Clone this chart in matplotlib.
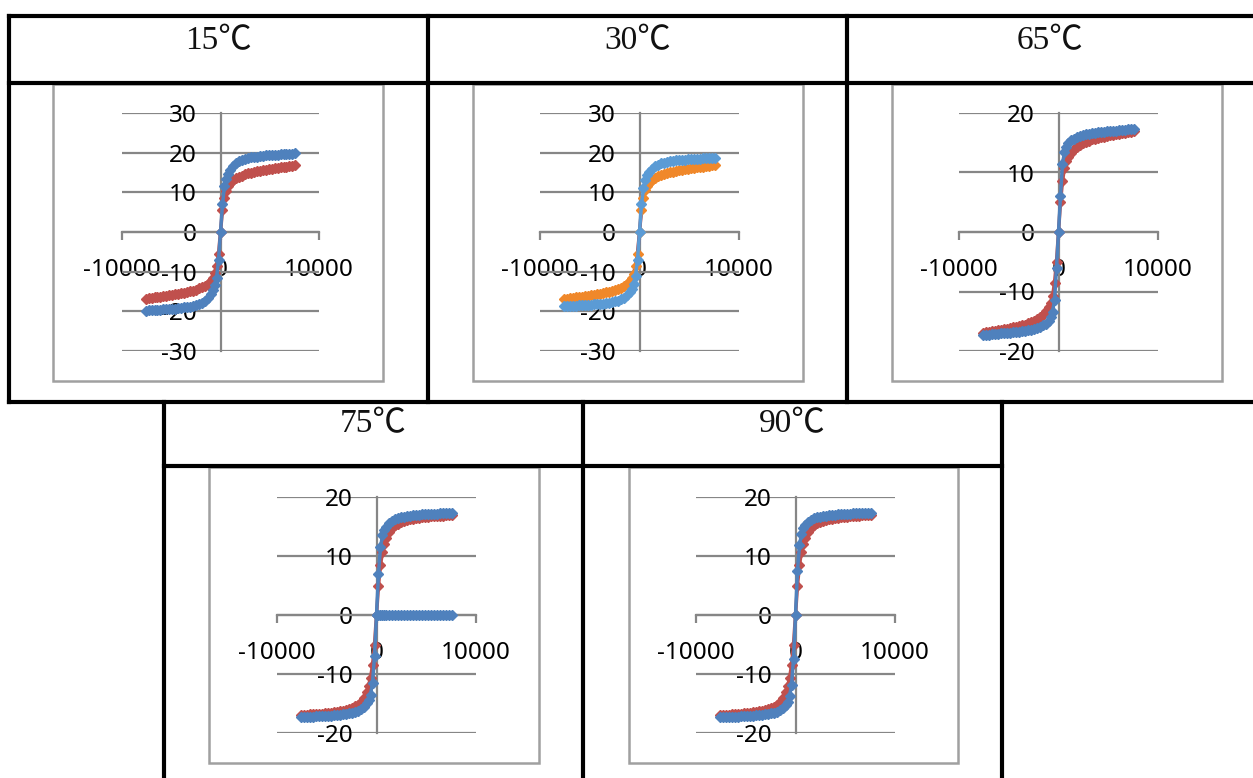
import numpy as np
import matplotlib
matplotlib.use("Agg")
import matplotlib.pyplot as plt
from matplotlib.lines import Line2D
from matplotlib.patches import Rectangle

plt.rcParams['axes.unicode_minus'] = False

W, H = 1253, 778

# field values (Oe), positive half of the sweep; the negative half mirrors it
field = [0, 200, 400, 600, 800, 1000, 1300, 1600, 1900, 2200, 2500, 2800, 3100, 3400,
         3700, 4000, 4300, 4600, 4900, 5200, 5500, 5800, 6100, 6400, 6700, 7000, 7300, 7600]

# magnetisation, red series (first curve) and blue series (second curve)
m15_red = [0, 5.5, 8.5, 10.4, 11.5, 12.3, 13.0, 13.5, 13.9, 14.2, 14.5, 14.75, 14.95, 15.15,
           15.3, 15.45, 15.6, 15.75, 15.85, 15.95, 16.05, 16.2, 16.3, 16.4, 16.5, 16.65, 16.75, 16.9]
m15_blue = [0, 7.0, 11.5, 13.3, 14.7, 15.6, 16.6, 17.3, 17.8, 18.1, 18.4, 18.6, 18.8, 18.9,
            19.0, 19.1, 19.2, 19.3, 19.35, 19.4, 19.45, 19.5, 19.55, 19.6, 19.65, 19.7, 19.75, 19.8]
m30_red = [0, 5.5, 8.5, 10.5, 11.6, 12.4, 13.1, 13.6, 14.0, 14.3, 14.6, 14.85, 15.05, 15.25,
           15.4, 15.55, 15.7, 15.85, 15.95, 16.05, 16.15, 16.3, 16.4, 16.5, 16.6, 16.7, 16.8, 16.9]
m30_blue = [0, 7.0, 11.0, 13.0, 14.3, 15.2, 16.0, 16.6, 17.0, 17.3, 17.5, 17.7, 17.85, 17.95,
            18.05, 18.15, 18.2, 18.25, 18.3, 18.35, 18.4, 18.45, 18.5, 18.55, 18.6, 18.65, 18.7, 18.75]
m65_red = [0, 5.0, 8.5, 10.8, 11.9, 12.6, 13.3, 13.9, 14.3, 14.6, 14.9, 15.15, 15.35, 15.55,
           15.7, 15.85, 15.95, 16.05, 16.15, 16.25, 16.35, 16.45, 16.55, 16.65, 16.7, 16.8, 16.85, 16.9]
m65_blue = [0, 6.0, 11.5, 13.4, 14.3, 14.9, 15.4, 15.7, 15.95, 16.1, 16.25, 16.4, 16.5, 16.6,
            16.7, 16.75, 16.8, 16.85, 16.9, 16.95, 17.0, 17.05, 17.1, 17.15, 17.2, 17.25, 17.3, 17.35]
m75_red = [0, 5.0, 8.5, 10.6, 12.0, 13.0, 14.0, 14.8, 15.2, 15.5, 15.75, 15.95, 16.1, 16.2,
           16.3, 16.4, 16.48, 16.55, 16.6, 16.65, 16.7, 16.75, 16.8, 16.83, 16.86, 16.88, 16.9, 16.92]
m75_blue = [0, 7.0, 11.5, 13.5, 14.4, 14.9, 15.6, 16.0, 16.25, 16.4, 16.55, 16.65, 16.75, 16.85,
            16.9, 16.95, 17.0, 17.05, 17.1, 17.12, 17.15, 17.18, 17.2, 17.22, 17.25, 17.28, 17.3, 17.32]
m75_zero = [0] * len(field)
m90_red = [0, 5.0, 8.5, 10.7, 12.1, 13.1, 14.1, 14.8, 15.25, 15.55, 15.8, 16.0, 16.15, 16.25,
           16.35, 16.45, 16.5, 16.58, 16.62, 16.67, 16.72, 16.77, 16.8, 16.84, 16.87, 16.9, 16.92, 16.95]
m90_blue = [0, 7.5, 11.8, 13.8, 14.7, 15.2, 15.8, 16.15, 16.4, 16.55, 16.65, 16.75, 16.85, 16.9,
            16.95, 17.0, 17.05, 17.1, 17.13, 17.16, 17.19, 17.21, 17.23, 17.25, 17.27, 17.3, 17.32, 17.35]

titles = ['15℃', '30℃', '65℃', '75℃', '90℃']
x_ticks = [-10000, 0, 10000]
y_ticks_30 = [-30, -20, -10, 0, 10, 20, 30]
y_ticks_20 = [-20, -10, 0, 10, 20]

RED = '#C0504D'
BLUE = '#4F81BD'
GRID = '#868686'


def full_loop(vals):
    xs = [-h for h in reversed(field[1:])] + field
    ys = [-v for v in reversed(vals[1:])] + vals
    return xs, ys


fig = plt.figure(figsize=(W / 100, H / 100), dpi=100)
bg = fig.add_axes([0, 0, 1, 1])
bg.set_xlim(0, W)
bg.set_ylim(H, 0)
bg.axis('off')

# table grid
tbl = [((9, 1253), (16, 16)), ((9, 1253), (83, 83)), ((9, 1253), (402, 402)),
       ((9, 9), (16, 402)), ((428, 428), (16, 402)), ((847, 847), (16, 402)),
       ((164, 1002), (466, 466)), ((164, 164), (402, 778)), ((583, 583), (402, 778)),
       ((1002, 1002), (402, 778))]
for xs, ys in tbl:
    bg.add_line(Line2D(xs, ys, color='black', lw=3, solid_capstyle='projecting'))

head_font = ['Liberation Serif', 'Noto Sans CJK TC', 'DejaVu Serif']
head_pos = [(218.5, 41), (637.5, 41), (1050, 41), (373.5, 424), (792.5, 424)]
for (hx, hy), t in zip(head_pos, titles):
    bg.text(hx, hy, t, ha='center', va='center', fontsize=24, family=head_font, color='#111111')

# chart frames
frames = [(53, 84, 383, 381), (473, 84, 803, 381), (892, 84, 1222, 381),
          (209, 467, 539, 763), (629, 467, 958, 763)]
for x0, y0, x1, y1 in frames:
    bg.add_patch(Rectangle((x0, y0), x1 - x0, y1 - y0, fill=False, ec='#A0A0A0', lw=1.8))

# plot areas (px): x0, x1, y_top, y_bottom
areas = [(122, 319, 113, 351), (540, 739, 113, 351), (959, 1158, 113, 351),
         (277, 476, 497, 733), (696, 895, 497, 733)]

series = [
    [(m15_red, RED, RED), (m15_blue, BLUE, BLUE)],
    [(m30_red, '#F0882A', '#B0302A'), (m30_blue, '#5B9BD5', '#5B9BD5')],
    [(m65_red, RED, RED), (m65_blue, BLUE, BLUE)],
    [(m75_red, RED, RED), (m75_blue, BLUE, BLUE)],
    [(m90_red, RED, RED), (m90_blue, BLUE, BLUE)],
]
yticks_all = [y_ticks_30, y_ticks_30, y_ticks_20, y_ticks_20, y_ticks_20]

for i, (x0, x1, y0, y1) in enumerate(areas):
    ax = fig.add_axes([x0 / W, 1 - y1 / H, (x1 - x0) / W, (y1 - y0) / H])
    yt = yticks_all[i]
    ax.set_xlim(x_ticks[0], x_ticks[-1])
    ax.set_ylim(yt[0], yt[-1])
    ax.patch.set_alpha(0)
    for s in ['top', 'right']:
        ax.spines[s].set_visible(False)
    ax.spines['left'].set_position(('data', 0))
    ax.spines['bottom'].set_position(('data', 0))
    for s in ['left', 'bottom']:
        ax.spines[s].set_color(GRID)
        ax.spines[s].set_linewidth(1.6)
    ax.set_xticks(x_ticks)
    ax.set_xticklabels([str(v) for v in x_ticks])
    ax.set_yticks(yt)
    ax.set_yticklabels([str(v) for v in yt])
    ax.tick_params(axis='x', direction='out', length=6, width=1.6, color=GRID, pad=13,
                   labelsize=17.5)
    ax.tick_params(axis='y', length=0, pad=17, labelsize=17.5)
    for lab in ax.get_xticklabels() + ax.get_yticklabels():
        lab.set_family('Noto Sans')
        lab.set_color('black')
    ax.yaxis.grid(True, color=GRID, lw=1.6)
    ax.set_axisbelow(True)

    for vals, mcol, lcol in series[i]:
        xs, ys = full_loop(vals)
        ax.plot(xs, ys, color=lcol, lw=2.5, marker='D', ms=4.6, mfc=mcol, mec=mcol,
                clip_on=False, zorder=3)
    if i == 3:
        ax.plot(field, m75_zero, color=BLUE, lw=2.5, marker='D', ms=4.6, clip_on=False, zorder=3)

fig.savefig('out.png', dpi=100)
